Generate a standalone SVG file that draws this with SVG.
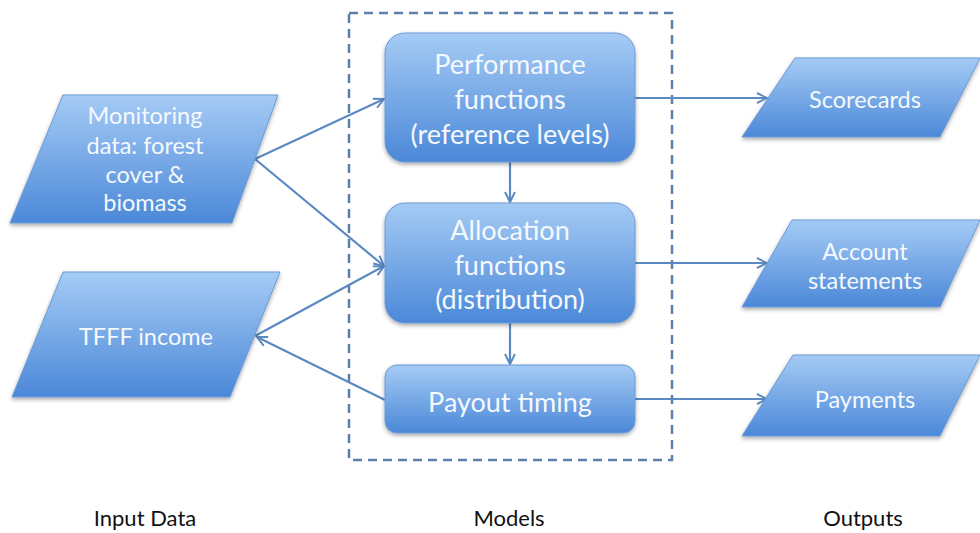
<svg xmlns="http://www.w3.org/2000/svg" width="980" height="533" viewBox="0 0 980 533">
<defs>
<linearGradient id="g" x1="0" y1="0" x2="0" y2="1">
<stop offset="0" stop-color="#a5cbf5"/>
<stop offset="1" stop-color="#4b88d8"/>
</linearGradient>
<filter id="sh" x="-10%" y="-10%" width="120%" height="130%">
<feGaussianBlur in="SourceAlpha" stdDeviation="2"/>
<feOffset dx="0" dy="2" result="b"/>
<feComponentTransfer><feFuncA type="linear" slope="0.35"/></feComponentTransfer>
<feMerge><feMergeNode/><feMergeNode in="SourceGraphic"/></feMerge>
</filter>
<marker id="ah" viewBox="0 0 12 12" refX="11" refY="6" markerWidth="12" markerHeight="12" markerUnits="userSpaceOnUse" orient="auto">
<path d="M1,1 L11,6 L1,11" fill="none" stroke="#5b89c2" stroke-width="2"/>
</marker>
<style>
.n{fill:url(#g);stroke:#6b9ad6;stroke-width:1;filter:url(#sh)}
.t{font-family:Lato,"Open Sans",sans-serif;fill:#f5f9fd;text-anchor:middle;font-size:23.5px}
.tb{font-size:27px}
.c{stroke:#5b89c2;stroke-width:2.2;fill:none;marker-end:url(#ah)}
.lab{font-family:Lato,"Open Sans",sans-serif;fill:#111;text-anchor:middle;font-size:22px}
</style>
</defs>
<rect width="980" height="533" fill="#fff"/>
<rect id="models-box" x="349" y="13" width="323" height="447" fill="none" stroke="#5b80aa" stroke-width="2.5" stroke-dasharray="9,6"/>
<g id="connectors">
<line class="c" x1="255" y1="159" x2="384" y2="99"/>
<line class="c" x1="255" y1="159" x2="384" y2="266"/>
<line class="c" x1="255" y1="336" x2="384" y2="266"/>
<line class="c" x1="385" y1="400" x2="257" y2="337"/>
<line class="c" x1="510" y1="162" x2="510" y2="202"/>
<line class="c" x1="510" y1="323" x2="510" y2="364"/>
<line class="c" x1="635" y1="98" x2="767" y2="98"/>
<line class="c" x1="635" y1="263" x2="767" y2="263"/>
<line class="c" x1="635" y1="399" x2="767" y2="399"/>
</g>
<g id="monitoring">
<polygon class="n" points="63,95 278,95 232,223 10,223"/>
<text class="t" x="145" y="124">Monitoring</text>
<text class="t" x="145" y="154">data: forest</text>
<text class="t" x="145" y="183">cover &amp;</text>
<text class="t" x="145" y="211">biomass</text>
</g>
<g id="tfff">
<polygon class="n" points="63,272 280,272 230,397 12,397"/>
<text class="t" x="146" y="345">TFFF income</text>
</g>
<g id="performance">
<rect class="n" x="385" y="33" width="250" height="129" rx="20"/>
<text class="t tb" x="510" y="74">Performance</text>
<text class="t tb" x="510" y="109">functions</text>
<text class="t tb" x="510" y="144">(reference levels)</text>
</g>
<g id="allocation">
<rect class="n" x="385" y="203" width="250" height="120" rx="20"/>
<text class="t tb" x="510" y="240">Allocation</text>
<text class="t tb" x="510" y="275">functions</text>
<text class="t tb" x="510" y="309">(distribution)</text>
</g>
<g id="payout">
<rect class="n" x="385" y="365" width="250" height="68" rx="12"/>
<text class="t tb" x="510" y="412">Payout timing</text>
</g>
<g id="scorecards">
<polygon class="n" points="795,58 980,58 940,137 742,137"/>
<text class="t" x="865" y="108">Scorecards</text>
</g>
<g id="account">
<polygon class="n" points="792,220 980,220 940,307 742,307"/>
<text class="t" x="865" y="260">Account</text>
<text class="t" x="865" y="289">statements</text>
</g>
<g id="payments">
<polygon class="n" points="793,355 980,355 940,436 742,436"/>
<text class="t" x="865" y="408">Payments</text>
</g>
<text class="lab" x="145" y="526">Input Data</text>
<text class="lab" x="509" y="526">Models</text>
<text class="lab" x="863" y="526">Outputs</text>
</svg>
